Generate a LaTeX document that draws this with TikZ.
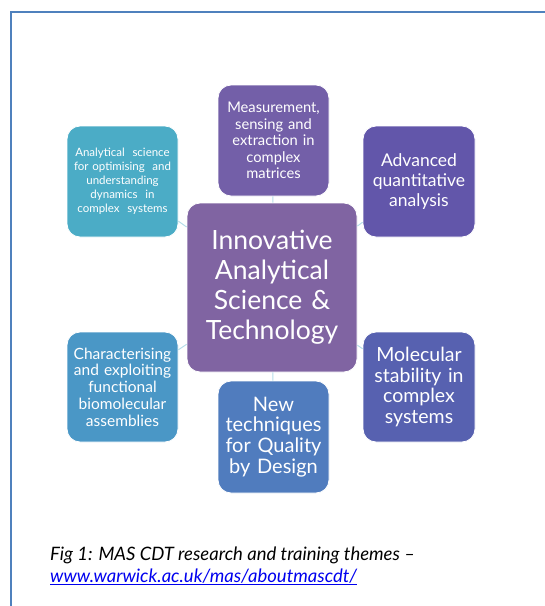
\documentclass[tikz,border=0pt]{standalone}
\usepackage{fontspec}
\setmainfont{Lato}
\usepackage{xcolor}
\definecolor{framecol}{HTML}{4F81BD}
\definecolor{cMeas}{HTML}{735FA8}
\definecolor{cCent}{HTML}{8064A2}
\definecolor{cAdv}{HTML}{6256AA}
\definecolor{cMol}{HTML}{5761B0}
\definecolor{cNew}{HTML}{507CBE}
\definecolor{cChar}{HTML}{4A97C6}
\definecolor{cAnal}{HTML}{4BACC6}
\definecolor{cConn}{HTML}{B5DDE9}
\definecolor{linkblue}{HTML}{0000EE}
\begin{document}
\begin{tikzpicture}[x=1pt,y=-1pt,
  theme/.style={draw=white, line width=0.8pt, rounded corners=13pt, text=white,
    align=center, inner sep=0pt, minimum width=111pt, minimum height=111pt, anchor=center},
  conn/.style={draw=cConn, line width=1pt}]
\useasboundingbox (0,0) rectangle (545,606);
\draw[framecol, line width=2pt] (548,11.5) -- (11,11.5) -- (11,610);

\node[theme, fill=cCent, minimum width=170pt, minimum height=169pt, text width=164pt,
  font=\fontsize{26.5}{30}\selectfont] (cent) at (272,287.5)
  {Innovative\\Analytical\\Science \&\\Technology};
\node[theme, fill=cMeas, text width=108pt, font=\fontsize{14.7}{16.5}\selectfont] (meas) at (273.5,140.5)
  {Measurement,\\sensing and\\extraction in\\complex\\matrices};
\node[theme, fill=cAnal, text width=108pt, font=\fontsize{11.5}{14}\selectfont] (anal) at (122.5,181.5)
  {Analytical\ \ science\\for optimising\ \ and\\understanding\\dynamics\ \ in\\complex\ \ systems};
\node[theme, fill=cAdv, minimum width=112pt, text width=106pt, font=\fontsize{17.5}{20}\selectfont] (adv) at (419,181.5)
  {Advanced\\quantitative\\analysis};
\node[theme, fill=cChar, minimum height=110pt, text width=108pt, font=\fontsize{15.5}{16.7}\selectfont] (char) at (122.5,387)
  {Characterising\\and exploiting\\functional\\biomolecular\\assemblies};
\node[theme, fill=cNew, minimum height=112pt, text width=108pt, font=\fontsize{20}{20.7}\selectfont] (newt) at (273.5,437)
  {New\\techniques\\for Quality\\by Design};
\node[theme, fill=cMol, minimum width=112pt, minimum height=110pt, text width=108pt, font=\fontsize{19.5}{20.7}\selectfont] (mol) at (419,387)
  {Molecular\\stability in\\complex\\systems};

\draw[conn] (meas) -- (cent);
\draw[conn] (newt) -- (cent);
\draw[conn] (anal) -- (cent);
\draw[conn] (adv) -- (cent);
\draw[conn] (char) -- (cent);
\draw[conn] (mol) -- (cent);

\node[anchor=base west, inner sep=0pt, font=\itshape\fontsize{18.5}{20}\selectfont] (cap1) at (50,560)
  {Fig 1: MAS CDT research and training themes --};
\node[anchor=base west, inner sep=0pt, text=linkblue, font=\itshape\fontsize{18.5}{20}\selectfont] (cap2) at (50,582)
  {\underline{www.warwick.ac.uk/mas/aboutmascdt/}};
\end{tikzpicture}
\end{document}
